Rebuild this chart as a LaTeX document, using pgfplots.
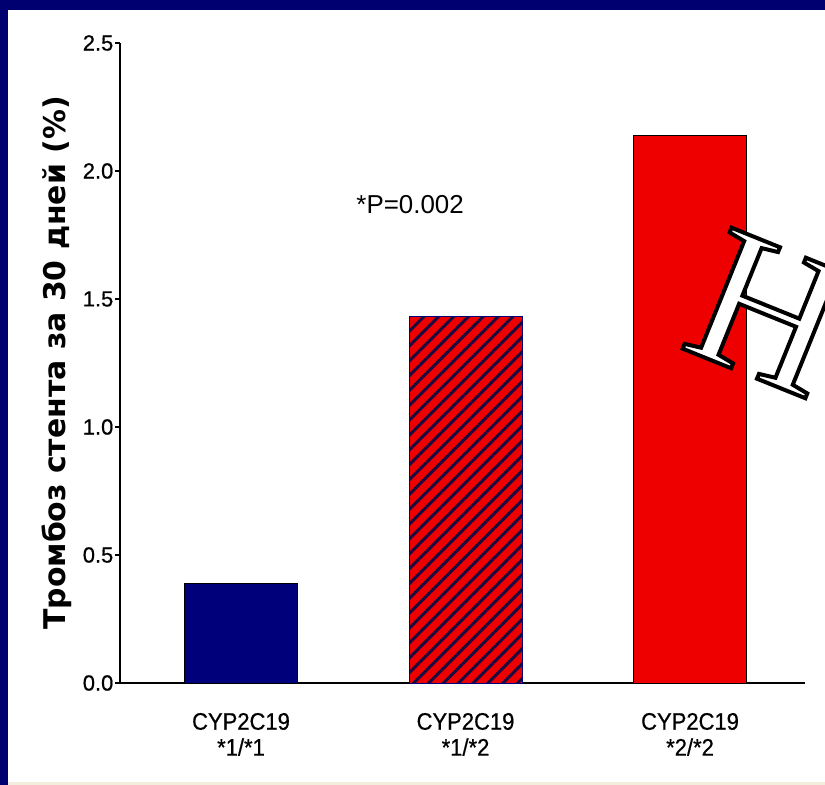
\documentclass[border=0pt]{standalone}
\usepackage{fontspec}
\setmainfont{Liberation Sans}
\newfontfamily\narrowfont[FakeStretch=0.92,FakeBold=0.6]{Liberation Sans}
\newfontfamily\tickfont[FakeBold=0.6]{Liberation Sans}
\newfontfamily\labelfont{DejaVu Sans}
\newfontfamily\seriffont{Liberation Serif}
\usepackage{pgfplots}
\pgfplotsset{compat=1.18}
\usetikzlibrary{patterns.meta}
\definecolor{navyframe}{HTML}{000070}
\definecolor{barblue}{HTML}{00007A}
\definecolor{barred}{HTML}{EE0000}
\definecolor{hatch}{HTML}{1A0A40}
\definecolor{beige}{HTML}{F3EDDD}
\begin{document}
\begin{tikzpicture}
\useasboundingbox (0,0) rectangle (825bp,785bp);
\clip (0,0) rectangle (825bp,785bp);
\fill[white] (0,0) rectangle (825bp,785bp);
\fill[beige] (0,0) rectangle (825bp,3bp);
\fill[navyframe] (0,775bp) rectangle (825bp,785bp);
\fill[navyframe] (0,0) rectangle (8bp,785bp);
\begin{axis}[
  at={(120bp,102bp)}, anchor=south west,
  scale only axis, width=685bp, height=640bp,
  xmin=-0.539, xmax=2.512, ymin=0, ymax=2.5,
  axis lines=left,
  axis line style={-, line width=1.5bp, black},
  ytick={0,0.5,1,1.5,2,2.5},
  yticklabel style={/pgf/number format/fixed, /pgf/number format/fixed zerofill, /pgf/number format/precision=1, font=\tickfont\fontsize{22}{26}\selectfont, inner sep=1.5bp},
  /pgf/number format/assume math mode=true,
  ytick align=outside, major tick length=5bp,
  tick style={line width=1.5bp, black},
  xtick={0,1,2},
  xticklabels={{CYP2C19\\*1/*1},{CYP2C19\\*1/*2},{CYP2C19\\*2/*2}},
  xticklabel style={align=center, font=\narrowfont\fontsize{24}{26}\selectfont, yshift=-24bp},
  x tick style={draw=none},
  clip=false,
]
\addplot[ybar, bar width=113bp, bar shift=0pt, fill=barblue, draw=black, line width=0.8bp] coordinates {(0,0.39)};
\addplot[ybar, bar width=113bp, bar shift=0pt, fill=barred, draw=barblue, line width=1bp,
  postaction={pattern={Lines[angle=45,distance=10.5bp,line width=3bp]}, pattern color=hatch}] coordinates {(1,1.43)};
\addplot[ybar, bar width=113bp, bar shift=0pt, fill=barred, draw=black, line width=0.8bp] coordinates {(2,2.14)};
\node[font=\fontsize{26}{30}\selectfont] at (axis cs:0.753,1.867) {*P=0.002};
\node[rotate=90, font=\labelfont\bfseries\fontsize{30}{34}\selectfont] at (axis description cs:-0.092,0.5) {Тромбоз стента за 30 дней (\%)};
\end{axis}
\node[rotate=-22, inner sep=0, font=\seriffont\fontsize{200}{200}\selectfont] at (768.5bp,472bp) {\color{white}\special{pdf:literal direct 0 G 2 Tr 4 w}Н\special{pdf:literal direct 0 Tr}};
\end{tikzpicture}
\end{document}
